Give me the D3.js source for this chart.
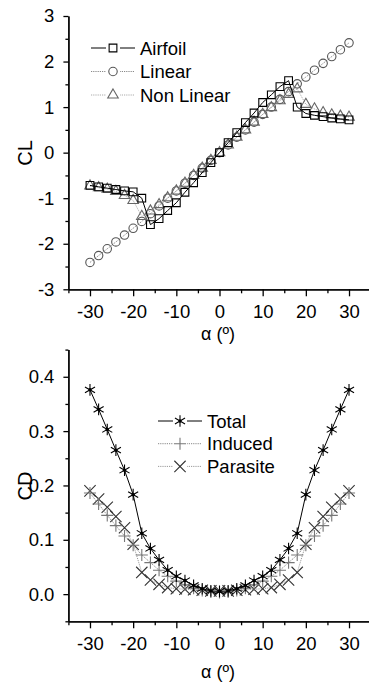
<!DOCTYPE html>
<html>
<head>
<meta charset="utf-8">
<script src="https://cdn.jsdelivr.net/npm/d3@7"></script>
<style>
  body { margin: 0; background: #fff; }
  svg { display: block; font-family: 'Liberation Sans', Arial, sans-serif; }
</style>
</head>
<body>
<div id="chart"></div>
<script>
var alpha = [-30, -28, -26, -24, -22, -20, -18, -16, -14, -12, -10, -8, -6, -4, -2, 0,
  2, 4, 6, 8, 10, 12, 14, 16, 18, 20, 22, 24, 26, 28, 30];

// lift coefficient
var clAirfoil = [-0.72, -0.75, -0.78, -0.81, -0.84, -0.86, -1.00, -1.58, -1.45, -1.27, -1.10, -0.87, -0.66, -0.44, -0.22, 0,
  0.22, 0.44, 0.66, 0.87, 1.10, 1.27, 1.45, 1.58, 1.00, 0.86, 0.82, 0.79, 0.76, 0.74, 0.72];
var clLinear = [-2.41, -2.26, -2.11, -1.96, -1.81, -1.66, -1.51, -1.34, -1.17, -1.00, -0.84, -0.67, -0.50, -0.34, -0.17, 0,
  0.17, 0.34, 0.50, 0.67, 0.84, 1.00, 1.17, 1.34, 1.51, 1.66, 1.81, 1.96, 2.11, 2.26, 2.41];
var clNonLinear = [-0.73, -0.77, -0.80, -0.85, -0.94, -1.05, -1.40, -1.28, -1.14, -0.99, -0.84, -0.67, -0.50, -0.34, -0.17, 0,
  0.17, 0.34, 0.50, 0.67, 0.84, 0.99, 1.14, 1.28, 1.40, 1.06, 0.96, 0.88, 0.83, 0.80, 0.78];

// drag coefficient
var cdTotal = [0.376, 0.340, 0.303, 0.265, 0.228, 0.183, 0.112, 0.084, 0.063, 0.044, 0.033, 0.025, 0.016, 0.010, 0.006, 0.005,
  0.006, 0.010, 0.016, 0.025, 0.033, 0.044, 0.063, 0.084, 0.112, 0.183, 0.228, 0.265, 0.303, 0.340, 0.376];
var cdInduced = [0.186, 0.166, 0.145, 0.126, 0.107, 0.090, 0.072, 0.058, 0.044, 0.033, 0.024, 0.017, 0.011, 0.007, 0.004, 0.003,
  0.004, 0.007, 0.011, 0.017, 0.024, 0.033, 0.044, 0.058, 0.072, 0.090, 0.107, 0.126, 0.145, 0.166, 0.186];
var cdParasite = [0.190, 0.175, 0.160, 0.143, 0.122, 0.092, 0.040, 0.026, 0.018, 0.012, 0.010, 0.009, 0.008, 0.007, 0.006, 0.006,
  0.006, 0.007, 0.008, 0.009, 0.010, 0.012, 0.018, 0.026, 0.040, 0.092, 0.122, 0.143, 0.160, 0.175, 0.190];

var xMajor = [-30, -20, -10, 0, 10, 20, 30];
var xMinor = [-35, -25, -15, -5, 5, 15, 25, 35];
var clMajor = [-3, -2, -1, 0, 1, 2, 3];
var clMinor = [-2.5, -1.5, -0.5, 0.5, 1.5, 2.5];
var cdMajor = [0, 0.1, 0.2, 0.3, 0.4];
var cdMinor = [-0.05, 0.05, 0.15, 0.25, 0.35, 0.45];

var width = 369;
var height = 684;

// plain hyphen for negatives, like the original figure
var locale = d3.formatLocale({ decimal: '.', thousands: ',', grouping: [3], currency: ['', ''], minus: '-' });

var svg = d3.select('#chart').append('svg')
    .attr('width', width)
    .attr('height', height);

var drawAxes = function (g, x, y, opts) {
  g.append('g')
      .attr('transform', 'translate(0,' + y.range()[0] + ')')
      .call(d3.axisBottom(x).tickValues(xMinor).tickSize(4).tickSizeOuter(0).tickFormat(''));
  g.append('g')
      .attr('transform', 'translate(0,' + y.range()[0] + ')')
      .call(d3.axisBottom(x).tickValues(xMajor).tickSize(7).tickSizeOuter(0).tickPadding(9).tickFormat(locale.format('d')));
  g.append('g')
      .attr('transform', 'translate(' + x.range()[0] + ',0)')
      .call(d3.axisLeft(y).tickValues(opts.minor).tickSize(3).tickSizeOuter(0).tickFormat(''));
  g.append('g')
      .attr('transform', 'translate(' + x.range()[0] + ',0)')
      .call(d3.axisLeft(y).tickValues(opts.major).tickSize(5).tickSizeOuter(0).tickPadding(9).tickFormat(opts.format));

  g.selectAll('.domain, .tick line')
      .attr('stroke', '#000')
      .attr('stroke-width', 1.3);
  g.selectAll('.tick text')
      .attr('fill', '#000')
      .style('font-size', '18.5px')
      .style('font-family', "'Liberation Sans', Arial, sans-serif");

  g.append('text')
      .attr('transform', 'translate(' + opts.yLabelX + ',' + opts.yLabelY + ') rotate(-90)')
      .attr('text-anchor', 'middle')
      .style('font-size', '20px')
      .text(opts.yLabel);

  g.append('text')
      .attr('x', 218)
      .attr('y', opts.xLabelY)
      .attr('text-anchor', 'middle')
      .style('font-size', '18px')
      .text('\u03b1 (\u00ba)');
};

var drawSeries = function (g, x, y, values, s) {
  var pts = alpha.map(function (a, i) { return [a, values[i]]; });
  var line = d3.line()
      .x(function (d) { return x(d[0]); })
      .y(function (d) { return y(d[1]); });

  g.append('path')
      .datum(pts)
      .attr('d', line)
      .attr('fill', 'none')
      .attr('stroke', s.lineColor)
      .attr('stroke-width', 1)
      .attr('stroke-dasharray', s.dash);

  var sym = d3.symbol().type(s.type).size(s.size);
  g.selectAll(null)
      .data(pts)
      .enter().append('path')
      .attr('transform', function (d) { return 'translate(' + x(d[0]) + ',' + y(d[1]) + ')'; })
      .attr('d', sym)
      .attr('fill', 'none')
      .attr('stroke', s.color)
      .attr('stroke-width', s.width || 1.1);

  if (s.dot) {
    g.selectAll(null)
        .data(pts)
        .enter().append('circle')
        .attr('cx', function (d) { return x(d[0]); })
        .attr('cy', function (d) { return y(d[1]); })
        .attr('r', 1.7)
        .attr('fill', s.color);
  }
};

var drawLegend = function (g, items, x0, y0, step) {
  items.forEach(function (s, i) {
    var cy = y0 + i * step;
    g.append('line')
        .attr('x1', x0)
        .attr('x2', x0 + 44)
        .attr('y1', cy)
        .attr('y2', cy)
        .attr('stroke', s.lineColor)
        .attr('stroke-width', 1)
        .attr('stroke-dasharray', s.dash);
    g.append('rect')
        .attr('x', x0 + 15)
        .attr('y', cy - 6)
        .attr('width', 14)
        .attr('height', 12)
        .attr('fill', '#fff');
    g.append('path')
        .attr('transform', 'translate(' + (x0 + 22) + ',' + cy + ')')
        .attr('d', d3.symbol().type(s.type).size(s.size))
        .attr('fill', 'none')
        .attr('stroke', s.color)
        .attr('stroke-width', s.width || 1.1);
    if (s.dot) {
      g.append('circle')
          .attr('cx', x0 + 22)
          .attr('cy', cy)
          .attr('r', 1.7)
          .attr('fill', s.color);
    }
    g.append('text')
        .attr('x', x0 + 49)
        .attr('y', cy + 6.5)
        .style('font-size', '18.5px')
        .text(s.name);
  });
};

// ---- CL plot
var x1 = d3.scaleLinear().domain([-35, 35]).range([68.4, 370.6]);
var y1 = d3.scaleLinear().domain([-3, 3]).range([289.3, 16]);
var clPlot = svg.append('g');

var sLinear = { name: 'Linear', type: d3.symbolCircle, size: 56, color: '#555', lineColor: '#888', dash: '1.2,1' };
var sNonLinear = { name: 'Non Linear', type: d3.symbolTriangle, size: 48, color: '#666', lineColor: '#aaa', dash: '1.2,1' };
var sAirfoil = { name: 'Airfoil', type: d3.symbolSquare, size: 60, color: '#000', lineColor: '#000', dash: null };

drawSeries(clPlot, x1, y1, clLinear, sLinear);
drawSeries(clPlot, x1, y1, clNonLinear, sNonLinear);
drawSeries(clPlot, x1, y1, clAirfoil, sAirfoil);
drawAxes(clPlot, x1, y1, {
  major: clMajor, minor: clMinor, format: locale.format('d'),
  yLabel: 'CL', yLabelX: 32, yLabelY: 153, xLabelY: 340
});
drawLegend(clPlot, [sAirfoil, sLinear, sNonLinear], 91, 48, 23.5);

// ---- CD plot
var y2 = d3.scaleLinear().domain([-0.05, 0.45]).range([621.3, 349.6]);
var cdPlot = svg.append('g');

var sParasite = { name: 'Parasite', type: d3.symbolTimes, size: 85, color: '#333', lineColor: '#999', dash: '1.2,1' };
var sInduced = { name: 'Induced', type: d3.symbolPlus, size: 50, color: '#777', lineColor: '#888', dash: '1.2,1' };
var sTotal = { name: 'Total', type: d3.symbolAsterisk, size: 95, color: '#000', lineColor: '#000', dash: null, dot: true };

drawSeries(cdPlot, x1, y2, cdParasite, sParasite);
drawSeries(cdPlot, x1, y2, cdInduced, sInduced);
drawSeries(cdPlot, x1, y2, cdTotal, sTotal);
drawAxes(cdPlot, x1, y2, {
  major: cdMajor, minor: cdMinor, format: locale.format('.1f'),
  yLabel: 'CD', yLabelX: 32, yLabelY: 486, xLabelY: 678
});
drawLegend(cdPlot, [sTotal, sInduced, sParasite], 158, 421, 22.7);
</script>
</body>
</html>
